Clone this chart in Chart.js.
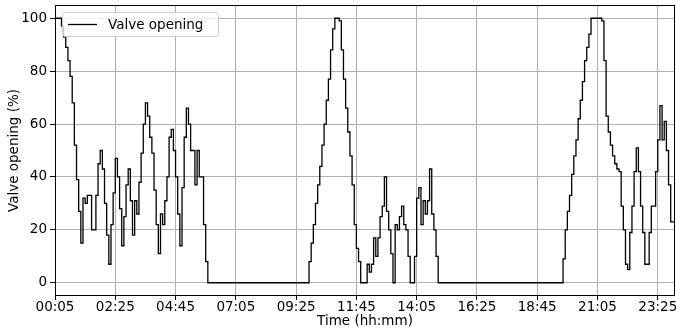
<!DOCTYPE html>
<html>
<head>
<meta charset="utf-8">
<script src="https://cdn.jsdelivr.net/npm/chart.js@4"></script>
<style>
html, body { margin: 0; padding: 0; background: #fff; }
#wrap { width: 676px; height: 331px; }
</style>
</head>
<body>
<div id="wrap"><canvas id="myChart"></canvas></div>
<script>
// 5-minute steps from 00:05, one value per step
const tickLabels = ["00:05", "02:25", "04:45", "07:05", "09:25", "11:45",
                    "14:05", "16:25", "18:45", "21:05", "23:25"];
const tickSteps = [0, 28, 56, 84, 112, 140, 168, 196, 224, 252, 280];
const yTicks = [0, 20, 40, 60, 80, 100];
const seriesName = "Valve opening";
const opening = [
  100, 100, 100, 97, 93, 89, 84, 78, 68, 52, 39, 27, 15, 32, 30, 33, 33, 20, 20, 33,
  45, 50, 43, 30, 18, 7, 22, 34, 47, 40, 28, 14, 25, 37, 43, 31, 18, 31, 26, 38,
  49, 60, 68, 63, 55, 49, 35, 22, 11, 26, 22, 31, 40, 55, 58, 50, 40, 26, 14, 36,
  55, 66, 60, 50, 50, 37, 50, 40, 40, 22, 8,
  0, 0, 0, 0, 0, 0, 0, 0, 0, 0, 0, 0, 0, 0, 0, 0, 0, 0, 0, 0,
  0, 0, 0, 0, 0, 0, 0, 0, 0, 0, 0, 0, 0, 0, 0, 0, 0, 0, 0, 0,
  0, 0, 0, 0, 0, 0, 0,
  8, 15, 22, 30, 37, 44, 52, 60, 69, 77, 88, 96, 100, 100, 99, 88, 77, 66, 57, 48,
  37, 22, 13, 8, 0, 0, 0, 7, 4, 7, 17, 10, 17, 25, 29, 40, 27, 20, 11, 0,
  22, 20, 25, 29, 22, 20, 10, 0, 0, 10, 32, 36, 22, 31, 26, 31, 43, 26, 20, 10,
  0, 0, 0, 0, 0, 0, 0, 0, 0, 0, 0, 0, 0, 0, 0, 0, 0, 0, 0, 0,
  0, 0, 0, 0, 0, 0, 0, 0, 0, 0, 0, 0, 0, 0, 0, 0, 0, 0, 0, 0,
  0, 0, 0, 0, 0, 0, 0, 0, 0, 0, 0, 0, 0, 0, 0, 0, 0, 0,
  9, 20, 27, 33, 41, 48, 54, 62, 69, 76, 84, 89, 94, 100, 100, 100, 100, 100, 99, 84,
  63, 57, 52, 48, 45, 43, 42, 29, 20, 7, 5, 19, 29, 42, 51, 42, 29, 19, 7, 7,
  19, 29, 29, 42, 54, 67, 54, 61, 50, 37, 23, 23
];

const points = opening.map((v, i) => ({ x: i, y: v }));
// last step runs to the right edge
points.push({ x: opening.length, y: opening[opening.length - 1] });

Chart.defaults.font.family = "DejaVu Sans";
Chart.defaults.font.size = 13.5;
Chart.defaults.color = "#000";

// matplotlib-like frame and legend box
const mplFrame = {
  id: "mplFrame",
  afterDraw(chart) {
    const ctx = chart.ctx, a = chart.chartArea;
    ctx.save();
    ctx.strokeStyle = "#000";
    ctx.lineWidth = 1;
    ctx.strokeRect(a.left + 0.5, a.top + 0.5, a.width - 1, a.height - 1);

    const bx = a.left + 7, by = a.top + 7, bw = 156, bh = 24, r = 3;
    ctx.beginPath();
    ctx.roundRect(bx + 0.5, by + 0.5, bw, bh, r);
    ctx.fillStyle = "rgba(255,255,255,0.8)";
    ctx.fill();
    ctx.strokeStyle = "#cccccc";
    ctx.stroke();

    const ly = by + bh / 2 + 0.5;
    ctx.beginPath();
    ctx.moveTo(bx + 6, ly);
    ctx.lineTo(bx + 35, ly);
    ctx.strokeStyle = "#000";
    ctx.lineWidth = 1.3;
    ctx.stroke();

    ctx.fillStyle = "#000";
    ctx.font = "13.5px 'DejaVu Sans'";
    ctx.textBaseline = "middle";
    ctx.fillText(chart.data.datasets[0].label, bx + 46, ly + 1);
    ctx.restore();
  }
};

new Chart(document.getElementById("myChart"), {
  type: "line",
  data: {
    datasets: [{
      label: seriesName,
      data: points,
      borderColor: "#000",
      borderWidth: 1.3,
      pointRadius: 0,
      stepped: true,
      fill: false,
    }]
  },
  options: {
    responsive: true,
    maintainAspectRatio: false,
    animation: false,
    layout: { padding: { left: 0, right: 1, top: 5, bottom: 0 } },
    plugins: {
      legend: { display: false },
      tooltip: { enabled: false },
    },
    scales: {
      x: {
        type: "linear",
        min: 0,
        max: opening.length,
        afterBuildTicks: s => { s.ticks = tickSteps.map(v => ({ value: v })); },
        afterFit: s => { s.height = 35; s.paddingLeft = 0; s.paddingRight = 0; },
        grid: { color: "#b0b0b0", lineWidth: 1, tickColor: "#000", tickLength: 4 },
        border: { display: false },
        ticks: {
          padding: -1,
          maxRotation: 0,
          autoSkip: false,
          callback: v => tickLabels[tickSteps.indexOf(v)],
        },
        title: {
          display: true,
          text: "Time (hh:mm)",
          padding: { top: 0, bottom: 1 },
        }
      },
      y: {
        min: -5,
        max: 105,
        afterBuildTicks: s => { s.ticks = yTicks.map(v => ({ value: v })); },
        afterFit: s => { s.width = 55; s.paddingTop = 0; s.paddingBottom = 0; },
        grid: { color: "#b0b0b0", lineWidth: 1, tickColor: "#000", tickLength: 5 },
        border: { display: false },
        ticks: { padding: 3 },
        title: {
          display: true,
          text: "Valve opening (%)",
          padding: { top: 6, bottom: 0 },
        }
      }
    }
  },
  plugins: [mplFrame]
});
</script>
</body>
</html>
